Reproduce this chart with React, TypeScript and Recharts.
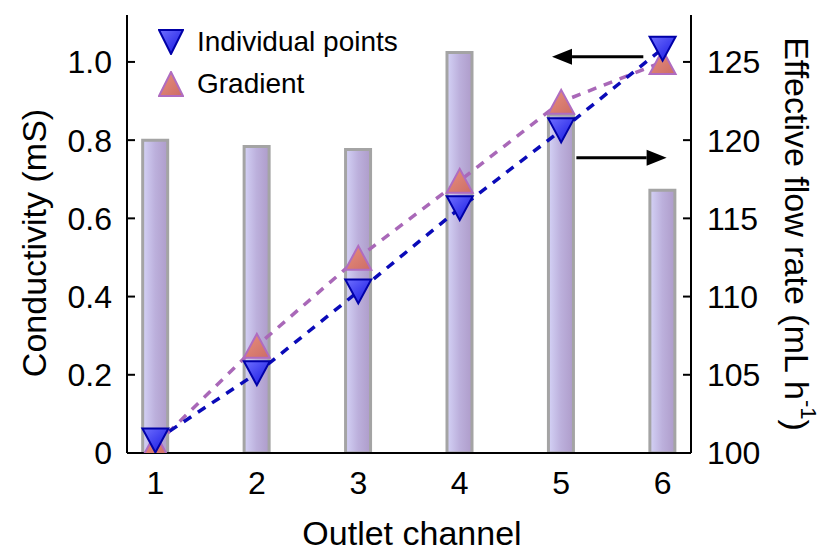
import {
  ComposedChart,
  Bar,
  Line,
  XAxis,
  YAxis,
  ReferenceLine,
  Legend
} from "recharts"

const channels = [1, 2, 3, 4, 5, 6]
const flowRate = [120.0, 119.6, 119.4, 125.6, 121.6, 116.8]
const individualPoints = [0.032, 0.204, 0.413, 0.626, 0.825, 1.034]
const gradientPoints = [0.02, 0.274, 0.499, 0.696, 0.898, 1.0]
const leftTicks = [0, 0.2, 0.4, 0.6, 0.8, 1.0]
const rightTicks = [100, 105, 110, 115, 120, 125]

// arrows pointing to the axis each series belongs to (data coords, left axis)
const arrows = [
  { from: { x: 5.81, y: 1.013 }, to: { x: 4.91, y: 1.013 } },
  { from: { x: 5.15, y: 0.755 }, to: { x: 6.04, y: 0.755 } }
]

const data = channels.map((c, i) => ({
  channel: c,
  flow: flowRate[i],
  individual: individualPoints[i],
  gradient: gradientPoints[i]
}))

const FONT = "'Liberation Sans', Arial, sans-serif"
const axisLine = { stroke: "#000", strokeWidth: 2 }
const tickStyle = { fontSize: 32, fill: "#000" }

const downTriangle = (props: any) => {
  const { cx, cy, index } = props
  if (cx == null || cy == null) return <g key={`d${index}`} />
  return (
    <polygon
      key={`d${index}`}
      points={`${cx - 13},${cy - 12} ${cx + 13},${cy - 12} ${cx},${cy + 12}`}
      fill="url(#blueTri)"
      stroke="#0000a8"
      strokeWidth={2}
    />
  )
}

const upTriangle = (props: any) => {
  const { cx, cy, index } = props
  if (cx == null || cy == null) return <g key={`u${index}`} />
  return (
    <polygon
      key={`u${index}`}
      points={`${cx - 13},${cy + 12} ${cx + 13},${cy + 12} ${cx},${cy - 12}`}
      fill="url(#orangeTri)"
      stroke="#b06cc0"
      strokeWidth={2}
    />
  )
}

const arrowShape = (props: any) => {
  const { x1, y1, x2, y2 } = props
  const dir = x2 > x1 ? 1 : -1
  const head = 20
  return (
    <g>
      <line x1={x1} y1={y1} x2={x2 - dir * head} y2={y2} stroke="#000" strokeWidth={3} />
      <polygon
        points={`${x2},${y2} ${x2 - dir * head},${y2 - 8} ${x2 - dir * head},${y2 + 8}`}
        fill="#000"
      />
    </g>
  )
}

const renderLegend = () => (
  <div style={{ fontSize: 28, color: "#000", fontFamily: FONT }}>
    <div style={{ display: "flex", alignItems: "center", height: 42 }}>
      <svg width={26} height={26}>
        <polygon points="1,1 25,1 13,25" fill="url(#blueTri)" stroke="#0000a8" strokeWidth={2} />
      </svg>
      <span style={{ marginLeft: 13 }}>Individual points</span>
    </div>
    <div style={{ display: "flex", alignItems: "center", height: 42 }}>
      <svg width={26} height={26}>
        <polygon points="1,25 25,25 13,1" fill="url(#orangeTri)" stroke="#b06cc0" strokeWidth={2} />
      </svg>
      <span style={{ marginLeft: 13 }}>Gradient</span>
    </div>
  </div>
)

export default function App() {
  return (
    <div style={{ position: "absolute", left: 0, top: 0, width: 822, height: 554, fontFamily: FONT, background: "#fff" }}>
      <ComposedChart
        width={822}
        height={554}
        data={data}
        margin={{ top: 15, right: 0, bottom: 0, left: 0 }}
      >
        <defs>
          <linearGradient id="barGrad" x1="0" y1="0" x2="1" y2="0">
            <stop offset="0%" stopColor="#d4d2f6" />
            <stop offset="50%" stopColor="#bcb0dc" />
            <stop offset="100%" stopColor="#ae9cca" />
          </linearGradient>
          <linearGradient id="blueTri" x1="0" y1="0" x2="1" y2="1">
            <stop offset="0%" stopColor="#7070ff" />
            <stop offset="100%" stopColor="#1414e0" />
          </linearGradient>
          <linearGradient id="orangeTri" x1="0" y1="0" x2="1" y2="1">
            <stop offset="0%" stopColor="#e8907c" />
            <stop offset="100%" stopColor="#cc6c66" />
          </linearGradient>
        </defs>

        <XAxis
          xAxisId="x"
          dataKey="channel"
          type="number"
          domain={[0.72, 6.28]}
          ticks={channels}
          allowDataOverflow
          tickLine={false}
          tickSize={0}
          tickMargin={18}
          axisLine={axisLine}
          tick={tickStyle}
          height={101}
        />
        <XAxis
          xAxisId="top"
          orientation="top"
          type="number"
          domain={[0.72, 6.28]}
          tick={false}
          tickLine={false}
          height={0}
          axisLine={axisLine}
        />
        <YAxis
          yAxisId="left"
          domain={[0, 1.12]}
          ticks={leftTicks}
          allowDataOverflow
          width={127}
          tickSize={-8}
          tickMargin={23}
          tickLine={axisLine}
          axisLine={axisLine}
          tick={tickStyle}
          tickFormatter={(v: number) => (v === 0 ? "0" : v.toFixed(1))}
        />
        <YAxis
          yAxisId="right"
          orientation="right"
          domain={[100, 128]}
          ticks={rightTicks}
          allowDataOverflow
          width={131}
          tickSize={-8}
          tickMargin={24}
          tickLine={axisLine}
          axisLine={axisLine}
          tick={tickStyle}
        />

        <Bar
          xAxisId="x"
          yAxisId="right"
          dataKey="flow"
          barSize={25}
          fill="url(#barGrad)"
          stroke="#a4a4a4"
          strokeWidth={3}
          isAnimationActive={false}
        />

        <Line
          xAxisId="x"
          yAxisId="left"
          dataKey="gradient"
          stroke="#a968b8"
          strokeWidth={3.5}
          strokeDasharray="9 8"
          dot={false}
          activeDot={false}
          isAnimationActive={false}
        />
        <Line
          xAxisId="x"
          yAxisId="left"
          dataKey="individual"
          stroke="#0a0ab8"
          strokeWidth={3.5}
          strokeDasharray="9 8"
          dot={false}
          activeDot={false}
          isAnimationActive={false}
        />
        <Line
          xAxisId="x"
          yAxisId="left"
          dataKey="gradient"
          stroke="none"
          dot={upTriangle}
          activeDot={false}
          isAnimationActive={false}
        />
        <Line
          xAxisId="x"
          yAxisId="left"
          dataKey="individual"
          stroke="none"
          dot={downTriangle}
          activeDot={false}
          isAnimationActive={false}
        />

        {arrows.map((a, i) => (
          <ReferenceLine
            key={i}
            xAxisId="x"
            yAxisId="left"
            segment={[a.from, a.to]}
            ifOverflow="visible"
            shape={arrowShape}
          />
        ))}

        <Legend
          layout="vertical"
          align="center"
          verticalAlign="middle"
          wrapperStyle={{ left: 158, top: 21, width: 280 }}
          content={renderLegend}
        />

        <text
          x={34}
          y={243}
          transform="rotate(-90 34 243)"
          textAnchor="middle"
          dominantBaseline="central"
          fontSize={34}
          fill="#000"
        >
          Conductivity (mS)
        </text>
        <text
          x={797}
          y={234}
          transform="rotate(90 797 234)"
          textAnchor="middle"
          dominantBaseline="central"
          fontSize={34}
          fill="#000"
        >
          <tspan>Effective flow rate (mL h</tspan>
          <tspan dy={-12} fontSize={22}>-1</tspan>
          <tspan dy={12}>)</tspan>
        </text>
        <text x={412} y={545} textAnchor="middle" fontSize={34} fill="#000">
          Outlet channel
        </text>
      </ComposedChart>
    </div>
  )
}
